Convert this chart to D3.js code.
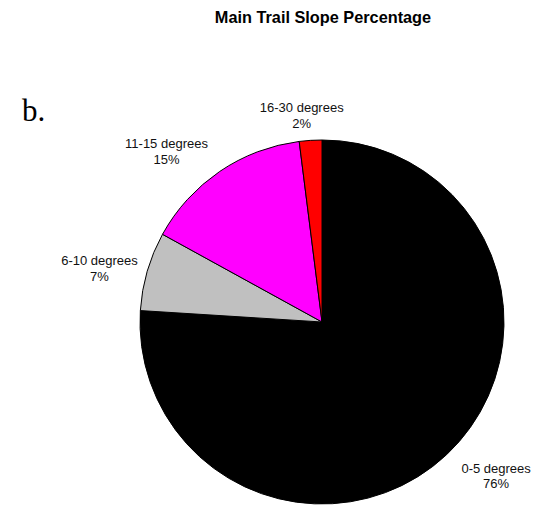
<!DOCTYPE html>
<html>
<head>
<meta charset="utf-8">
<script src="https://cdn.jsdelivr.net/npm/d3@7"></script>
<style>
  html, body { margin: 0; padding: 0; background: #fff; }
  svg { display: block; }
</style>
</head>
<body>
<svg id="chart" width="533" height="505"></svg>
<script>
// ---- data ----
const categories = ["0-5 degrees", "6-10 degrees", "11-15 degrees", "16-30 degrees"];
const values = [76, 7, 15, 2];
const percentLabels = ["76%", "7%", "15%", "2%"];
const colors = ["#000000", "#c0c0c0", "#ff00ff", "#ff0000"];
const title = "Main Trail Slope Percentage";
const panelLabel = "b.";

// ---- layout ----
const W = 533, H = 505;
const cx = 322, cy = 322, R = 182;
// label placement: angle nudge (degrees) relative to slice mid-angle, and distance from center
const labelAngleNudge = [-4.6, -3.6, -8.8, -2.1];
const labelDist = [235, 228, 228, 204];

const svg = d3.select("#chart");
const g = svg.append("g").attr("transform", `translate(${cx},${cy})`);

const pie = d3.pie().sort(null).value(d => d.v);
const data = categories.map((c, i) => ({ c, v: values[i], p: percentLabels[i], col: colors[i], i }));
const arcs = pie(data);
const arc = d3.arc().innerRadius(0).outerRadius(R);

g.selectAll("path.slice")
  .data(arcs)
  .join("path")
  .attr("class", "slice")
  .attr("d", arc)
  .attr("fill", d => d.data.col)
  .attr("stroke", "#000")
  .attr("stroke-width", 1)
  .attr("stroke-linejoin", "round");

const labels = g.selectAll("g.lab")
  .data(arcs)
  .join("g")
  .attr("class", "lab")
  .attr("transform", d => {
    const mid = (d.startAngle + d.endAngle) / 2 + labelAngleNudge[d.index] * Math.PI / 180;
    const r = labelDist[d.index];
    return `translate(${r * Math.sin(mid)},${-r * Math.cos(mid)})`;
  });

labels.append("text")
  .attr("text-anchor", "middle")
  .attr("font-family", "Liberation Sans, Arial, sans-serif")
  .attr("font-size", 13)
  .attr("fill", "#111")
  .attr("y", -7)
  .text(d => d.data.c);
labels.append("text")
  .attr("text-anchor", "middle")
  .attr("font-family", "Liberation Sans, Arial, sans-serif")
  .attr("font-size", 13)
  .attr("fill", "#111")
  .attr("y", 8.5)
  .text(d => d.data.p);

svg.append("text")
  .attr("x", 323).attr("y", 23)
  .attr("text-anchor", "middle")
  .attr("font-family", "Liberation Sans, Arial, sans-serif")
  .attr("font-weight", "bold")
  .attr("font-size", 16.3)
  .attr("fill", "#000")
  .text(title);

svg.append("text")
  .attr("x", 22).attr("y", 121)
  .attr("font-family", "Liberation Serif, Times New Roman, serif")
  .attr("font-size", 31)
  .attr("fill", "#000")
  .text(panelLabel);
</script>
</body>
</html>
